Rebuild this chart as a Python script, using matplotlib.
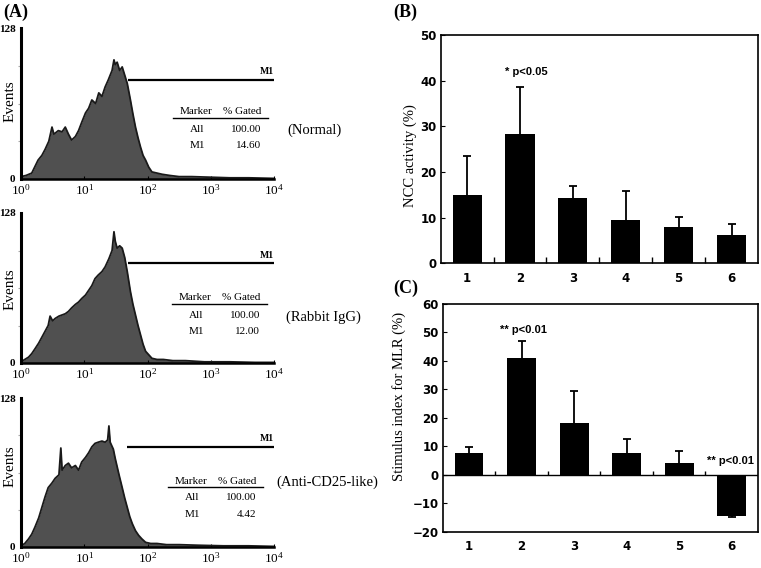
import numpy as np
import matplotlib
matplotlib.use("Agg")
import matplotlib.pyplot as plt
from matplotlib.lines import Line2D
from matplotlib.ticker import NullLocator

# === data: flow cytometry histograms (log10 channel, events) ===
logs_normal = [0.00, 0.08, 0.17, 0.27, 0.33, 0.38, 0.44, 0.49, 0.52, 0.59, 0.65, 0.70, 0.75,
               0.80, 0.86, 0.91, 0.96, 1.02, 1.07, 1.12, 1.18, 1.23, 1.28, 1.33, 1.38, 1.44,
               1.47, 1.49, 1.52, 1.56, 1.60, 1.64, 1.68, 1.73, 1.77, 1.81, 1.85, 1.89, 1.93,
               1.97, 2.02, 2.07, 2.15, 2.23, 2.35, 2.50, 2.70, 3.00, 3.30, 3.60, 4.00]
counts_normal = [2, 3, 5, 16, 20, 25, 32, 44, 38, 41, 40, 44, 38,
                 33, 36, 41, 48, 56, 60, 67, 64, 73, 70, 78, 84, 92,
                 101, 97, 99, 92, 95, 88, 81, 67, 55, 44, 35, 27, 20,
                 16, 10, 6, 5, 4, 3, 2, 2, 1.5, 1, 1, 0.5]

logs_rabbit = [0.00, 0.06, 0.12, 0.17, 0.22, 0.28, 0.33, 0.38, 0.43, 0.46, 0.50, 0.54, 0.60,
               0.65, 0.70, 0.75, 0.80, 0.86, 0.91, 0.96, 1.02, 1.07, 1.12, 1.17, 1.22, 1.28,
               1.33, 1.39, 1.44, 1.47, 1.49, 1.52, 1.56, 1.60, 1.64, 1.68, 1.73, 1.77, 1.81,
               1.85, 1.89, 1.93, 1.97, 2.02, 2.07, 2.15, 2.25, 2.40, 2.60, 2.90, 3.30, 3.70, 4.00]
counts_rabbit = [1, 3, 5, 8, 12, 17, 22, 27, 32, 40, 36, 38, 40,
                 41, 42, 44, 47, 50, 52, 55, 58, 62, 66, 72, 75, 78,
                 82, 89, 96, 112, 104, 98, 100, 98, 90, 78, 61, 50, 41,
                 32, 24, 16, 10, 7, 4, 3, 3, 2, 2, 1, 1, 0.5, 0.5]

logs_anti = [0.00, 0.06, 0.12, 0.17, 0.22, 0.28, 0.33, 0.38, 0.43, 0.49, 0.54, 0.60, 0.63,
             0.65, 0.70, 0.75, 0.80, 0.86, 0.91, 0.96, 1.02, 1.07, 1.12, 1.17, 1.22, 1.28,
             1.33, 1.37, 1.39, 1.41, 1.46, 1.49, 1.55, 1.60, 1.64, 1.68, 1.72, 1.76, 1.81,
             1.86, 1.91, 1.97, 2.05, 2.15, 2.30, 2.50, 2.80, 3.20, 3.60, 4.00]
counts_anti = [1, 3, 7, 11, 17, 25, 34, 43, 51, 55, 59, 62, 85,
               66, 70, 72, 68, 70, 66, 73, 77, 81, 86, 89, 90, 91,
               90, 92, 104, 90, 84, 76, 62, 51, 42, 34, 26, 20, 14,
               10, 7, 4, 3, 3, 2, 2, 1.5, 1, 1, 0.5]

# gate M1: start channel and height
gate_start = [49, 50, 48]
gate_level = [84, 85, 86]

samples = ["(Normal)", "(Rabbit IgG)", "(Anti-CD25-like)"]
markers = ["All", "M1"]
gated = [["100.00", "14.60"], ["100.00", "12.00"], ["100.00", "4.42"]]

# === data: bar panels ===
groups = [1, 2, 3, 4, 5, 6]
ncc = [15.0, 28.3, 14.4, 9.4, 7.9, 6.1]
ncc_err = [8.6, 10.4, 2.5, 6.4, 2.2, 2.5]
mlr = [7.8, 41.0, 18.1, 7.6, 4.1, -14.4]
mlr_err = [2.1, 6.0, 11.3, 4.9, 4.3, 0.6]

SERIF = ["Liberation Serif", "DejaVu Serif"]
SANS = ["DejaVu Sans"]
NARROW = ["Liberation Sans Narrow", "Liberation Sans", "DejaVu Sans"]
plt.rcParams["mathtext.fontset"] = "stix"

W, H = 761, 568
fig = plt.figure(figsize=(W / 100, H / 100), dpi=100)


def rect(l, t, r, b):
    return [l / W, 1 - b / H, (r - l) / W, (b - t) / H]


def ftext(x, y, s, **kw):
    fig.text(x / W, 1 - y / H, s, **kw)


# === (A) histograms ===
hist_boxes = [(21, 28, 274, 179), (21, 213, 274, 363), (21, 398, 274, 547)]
hist_data = [(logs_normal, counts_normal), (logs_rabbit, counts_rabbit), (logs_anti, counts_anti)]
table_pos = [(173, 118), (172, 304), (168, 487)]
sample_pos = [(315, 130), (323, 317), (327, 482)]
events_y = [101, 289, 466]

for i, (box, (lg, ct)) in enumerate(zip(hist_boxes, hist_data)):
    ax = fig.add_axes(rect(*box))
    x = 10 ** np.array(lg)
    ax.fill_between(x, ct, 0, color="#505050", lw=0)
    ax.plot(x, ct, color="#1a1a1a", lw=1.3)
    ax.set_xscale("log")
    ax.set_xlim(1, 1e4)
    ax.set_ylim(0, 128)
    for s in ["top", "right"]:
        ax.spines[s].set_visible(False)
    ax.spines["left"].set_linewidth(2.2)
    ax.spines["bottom"].set_linewidth(1.8)
    ax.set_yticks([0, 128])
    ax.set_yticklabels(["0", "128"], family=SERIF, fontsize=8, fontweight="bold")
    ax.set_yticks([32, 64, 96], minor=True)
    ax.tick_params(axis="y", which="major", length=0, pad=4)
    ax.tick_params(axis="y", which="minor", length=2, color="#aaaaaa", width=0.8)
    ax.set_xticks([1, 10, 100, 1000, 10000])
    ax.set_xticklabels([r"$\mathregular{10^{%d}}$" % k for k in range(5)],
                       family=SERIF, fontsize=9.5)
    ax.xaxis.set_minor_locator(NullLocator())
    ax.tick_params(axis="x", which="major", direction="in", length=2.5, pad=3)
    ftext(10, events_y[i], "Events", rotation=90, ha="center", va="center",
          family=SERIF, fontsize=11)

    ax.hlines(gate_level[i], gate_start[i], 1e4, color="black", lw=1.6)
    ax.text(1e4, gate_level[i] + 3, "M1", ha="right", va="bottom",
            family=SERIF, fontsize=7, fontweight="bold")

    x0, ly = table_pos[i]
    fig.add_artist(Line2D([x0 / W, (x0 + 95) / W], [1 - ly / H, 1 - ly / H],
                          color="black", lw=1.0))
    ftext(x0 + 23, ly - 6, "Marker", ha="center", va="center", family=SERIF, fontsize=8)
    ftext(x0 + 69, ly - 6, "% Gated", ha="center", va="center", family=SERIF, fontsize=8)
    for j, m in enumerate(markers):
        yy = ly + 11 + 16.5 * j
        ftext(x0 + 24, yy, m, ha="center", va="center", family=SERIF, fontsize=8)
        ftext(x0 + 88, yy, gated[i][j], ha="right", va="center", family=SERIF, fontsize=8)
    ftext(sample_pos[i][0], sample_pos[i][1], samples[i], ha="center", va="center",
          family=SERIF, fontsize=10.5)

ftext(3, 12, "(A)", ha="left", va="center", family=SERIF, fontsize=13, fontweight="bold")


# === (B) and (C) bar charts ===
def bar_panel(box, vals, errs, ylim, yticks):
    ax = fig.add_axes(rect(*box))
    ax.errorbar(groups, vals, yerr=errs, fmt="none", ecolor="black",
                elinewidth=1.3, capsize=3, capthick=1.3, zorder=1)
    ax.bar(groups, vals, width=0.55, color="black", zorder=2)
    ax.set_xlim(0.5, len(groups) + 0.5)
    ax.set_ylim(*ylim)
    ax.set_yticks(yticks)
    ax.set_xticks(groups)
    for s in ax.spines.values():
        s.set_linewidth(1.2)
    for lab in ax.get_xticklabels() + ax.get_yticklabels():
        lab.set_family(SANS)
        lab.set_fontweight("bold")
        lab.set_fontsize(8.5)
    ax.tick_params(axis="x", which="major", length=0, pad=6)
    ax.tick_params(axis="y", direction="in", length=3, pad=3)
    return ax


ax_b = bar_panel((440.7, 35, 758, 263.3), ncc, ncc_err, (0, 50), range(0, 51, 10))
ax_b.set_xticks(np.arange(1.5, len(groups)), minor=True)
ax_b.tick_params(axis="x", which="minor", direction="in", length=4, width=1)
ax_b.text(2.11, 42, "* p<0.05", ha="center", va="center", family=NARROW,
          fontsize=8, fontweight="bold")

ax_c = bar_panel((442.7, 304, 758, 531.7), mlr, mlr_err, (-20, 60), range(-20, 61, 10))
ax_c.axhline(0, color="black", lw=1.0, zorder=3)
ax_c.vlines(np.arange(1.5, len(groups)), 0, 1.3, color="black", lw=1.0)
ax_c.text(2.03, 51, "** p<0.01", ha="center", va="center", family=NARROW,
          fontsize=8, fontweight="bold")
ax_c.text(5.97, 4.7, "** p<0.01", ha="center", va="center", family=NARROW,
          fontsize=8, fontweight="bold")

ftext(410, 156, "NCC activity (%)", rotation=90, ha="center", va="center",
      family=SERIF, fontsize=10.5)
ftext(399, 396, "Stimulus index for MLR (%)", rotation=90, ha="center", va="center",
      family=SERIF, fontsize=10.5)
ftext(393, 12, "(B)", ha="left", va="center", family=SERIF, fontsize=13, fontweight="bold")
ftext(393, 288, "(C)", ha="left", va="center", family=SERIF, fontsize=13, fontweight="bold")

fig.savefig("out.png", dpi=100)
